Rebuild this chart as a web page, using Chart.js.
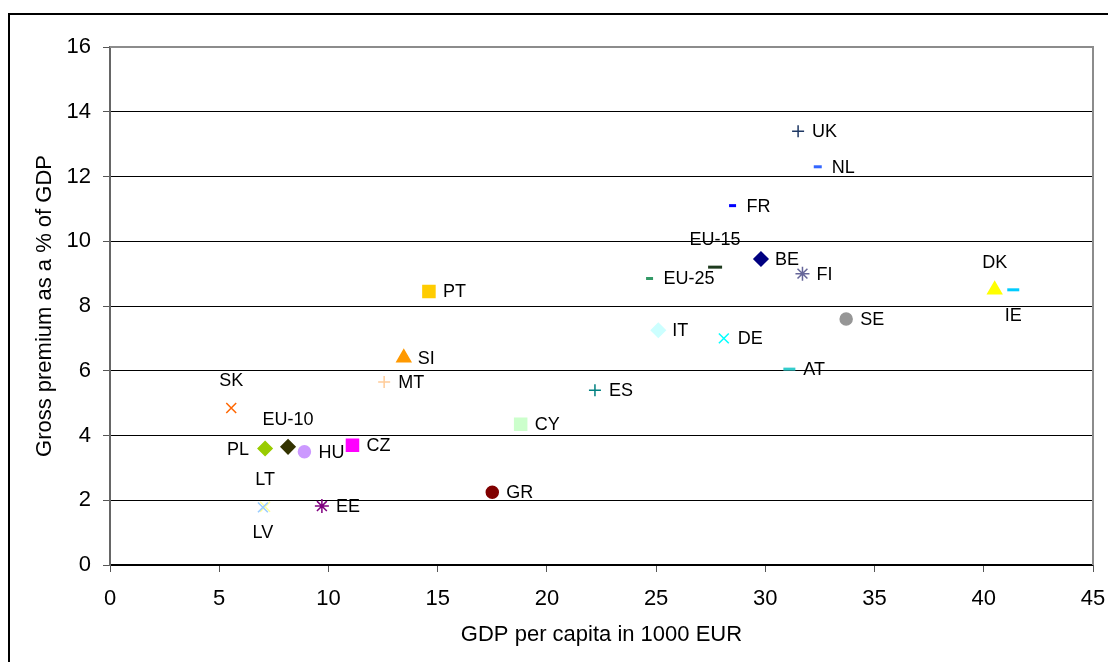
<!DOCTYPE html>
<html>
<head>
<meta charset="utf-8">
<script src="https://cdn.jsdelivr.net/npm/chart.js@4/dist/chart.umd.min.js"></script>
<style>
  html, body { margin: 0; padding: 0; background: #fff; overflow: hidden; }
  #wrap { position: relative; width: 1108px; height: 662px; overflow: hidden; }
  #frame { position: absolute; left: 8px; top: 13px; width: 1200px; height: 700px; border: 2px solid #000; box-sizing: border-box; }
  #chart { position: absolute; left: 0; top: 0; }
</style>
</head>
<body>
<div id="wrap">
  <div id="frame"></div>
  <canvas id="chart" width="1108" height="662"></canvas>
</div>
<script>
// countries and values
var countries = ['UK', 'NL', 'FR', 'EU-15', 'BE', 'FI', 'EU-25', 'DK', 'IE', 'SE', 'IT', 'DE', 'AT',
                 'PT', 'SI', 'MT', 'ES', 'CY', 'GR', 'SK', 'EU-10', 'PL', 'HU', 'CZ', 'LT', 'LV', 'EE'];
var gdp_per_capita = [31.5, 32.4, 28.5, 27.7, 29.8, 31.7, 24.7, 40.5, 41.35, 33.7, 25.1, 28.1, 31.1,
                      14.6, 13.45, 12.55, 22.2, 18.8, 17.5, 5.55, 8.15, 7.1, 8.9, 11.1, 7.1, 7.0, 9.7];
var gross_premium = [13.4, 12.3, 11.1, 9.2, 9.45, 9.0, 8.85, 8.5, 8.5, 7.6, 7.25, 7.0, 6.05,
                     8.45, 6.4, 5.65, 5.4, 4.35, 2.25, 4.85, 3.65, 3.6, 3.5, 3.7, 1.8, 1.78, 1.82];
var x_ticks = [0, 5, 10, 15, 20, 25, 30, 35, 40, 45];
var y_ticks = [0, 2, 4, 6, 8, 10, 12, 14, 16];

// marker look for each country
var marker_styles = {
    'UK':    ['cross',    '#1f3864', 6],
    'NL':    ['line',     '#3366ff', 4],
    'FR':    ['line',     '#0000ff', 3.5],
    'EU-15': ['line',     '#1e3b1e', 7],
    'BE':    ['rectRot',  '#000080', 7],
    'FI':    ['star',     '#666699', 7],
    'EU-25': ['line',     '#339966', 3.5],
    'DK':    ['triangle', '#ffff00', 8],
    'IE':    ['line',     '#00ccff', 6],
    'SE':    ['circle',   '#969696', 6],
    'IT':    ['rectRot',  '#ccffff', 7],
    'DE':    ['crossRot', '#00ffff', 7],
    'AT':    ['line',     '#33cccc', 6],
    'PT':    ['rect',     '#ffcc00', 8.5],
    'SI':    ['triangle', '#ff9900', 8],
    'MT':    ['cross',    '#ffcc99', 6],
    'ES':    ['cross',    '#008080', 6],
    'CY':    ['rect',     '#ccffcc', 8.5],
    'GR':    ['circle',   '#800000', 6],
    'SK':    ['crossRot', '#ff6600', 7],
    'EU-10': ['rectRot',  '#333300', 7],
    'PL':    ['rectRot',  '#99cc00', 7],
    'HU':    ['circle',   '#cc99ff', 6],
    'CZ':    ['rect',     '#ff00ff', 8.5],
    'LT':    ['crossRot', '#ffff99', 7],
    'LV':    ['crossRot', '#99ccff', 7],
    'EE':    ['star',     '#800080', 7]
};
// where each name sits next to its marker
var label_side = {'EU-15': 'top', 'DK': 'top', 'IE': 'bottom', 'SK': 'top', 'EU-10': 'top',
                  'PL': 'left', 'LT': 'top', 'LV': 'bottom'};

var points = countries.map(function(c, i) { return {x: gdp_per_capita[i], y: gross_premium[i]}; });
var styles = countries.map(function(c) { return marker_styles[c]; });

var point_labels = {
    id: 'point_labels',
    beforeDatasetsDraw: function(chart) {
        var area = chart.chartArea, ctx = chart.ctx;
        ctx.save();
        ctx.strokeStyle = '#8c8c8c';
        ctx.lineWidth = 2;
        ctx.beginPath();
        ctx.moveTo(area.left, area.top);
        ctx.lineTo(area.right, area.top);
        ctx.lineTo(area.right, area.bottom);
        ctx.stroke();
        ctx.restore();
    },
    afterDatasetsDraw: function(chart) {
        var ctx = chart.ctx;
        var meta = chart.getDatasetMeta(0);
        ctx.save();
        ctx.font = '18px "Liberation Sans", Arial, sans-serif';
        ctx.fillStyle = '#000';
        meta.data.forEach(function(pt, i) {
            var name = countries[i];
            var side = label_side[name] || 'right';
            ctx.textBaseline = 'middle';
            if (side === 'right') {
                ctx.textAlign = 'left';
                ctx.fillText(name, pt.x + 14, pt.y + 1);
            } else if (side === 'left') {
                ctx.textAlign = 'right';
                ctx.fillText(name, pt.x - 16, pt.y + 2);
            } else if (side === 'top') {
                ctx.textAlign = 'center';
                ctx.fillText(name, pt.x, pt.y - 27);
            } else {
                ctx.textAlign = 'center';
                ctx.fillText(name, pt.x, pt.y + 26);
            }
        });
        ctx.restore();
    }
};

var tick_font = {family: '"Liberation Sans", Arial, sans-serif', size: 22};
var title_font = {family: '"Liberation Sans", Arial, sans-serif', size: 22};

new Chart(document.getElementById('chart'), {
    type: 'scatter',
    data: {
        datasets: [{
            data: points,
            pointStyle: styles.map(function(s) { return s[0]; }),
            backgroundColor: styles.map(function(s) { return s[1]; }),
            borderColor: styles.map(function(s) { return s[1]; }),
            pointRadius: styles.map(function(s) { return s[2]; }),
            borderWidth: styles.map(function(s) { return s[0] === 'line' ? 3 : 1.5; })
        }]
    },
    options: {
        responsive: false,
        devicePixelRatio: 1,
        animation: false,
        layout: {padding: {left: 0, top: 47, right: 15, bottom: 0}},
        plugins: {legend: {display: false}, tooltip: {enabled: false}},
        scales: {
            x: {
                type: 'linear', min: 0, max: 45,
                afterBuildTicks: function(scale) { scale.ticks = x_ticks.map(function(v) { return {value: v}; }); },
                afterFit: function(scale) { scale.height = 97; scale.paddingLeft = 0; scale.paddingRight = 0; },
                grid: {drawOnChartArea: false, drawTicks: true, tickLength: 7, tickColor: '#555'},
                border: {color: '#000', width: 1.5},
                ticks: {font: tick_font, color: '#000', padding: 14, maxRotation: 0},
                title: {display: true, text: 'GDP per capita in 1000 EUR', font: title_font, color: '#000',
                        padding: {top: 0, bottom: 14}}
            },
            y: {
                type: 'linear', min: 0, max: 16,
                afterBuildTicks: function(scale) { scale.ticks = y_ticks.map(function(v) { return {value: v}; }); },
                afterFit: function(scale) { scale.width = 110; scale.paddingTop = 0; scale.paddingBottom = 0; },
                grid: {color: '#000', lineWidth: 1, tickLength: 7, tickColor: '#555'},
                border: {color: '#666', width: 2},
                ticks: {font: tick_font, color: '#000', padding: 12},
                title: {display: true, text: 'Gross premium as a % of GDP', font: title_font, color: '#000',
                        padding: {top: 32, bottom: 0}}
            }
        }
    },
    plugins: [point_labels]
});
</script>
</body>
</html>
